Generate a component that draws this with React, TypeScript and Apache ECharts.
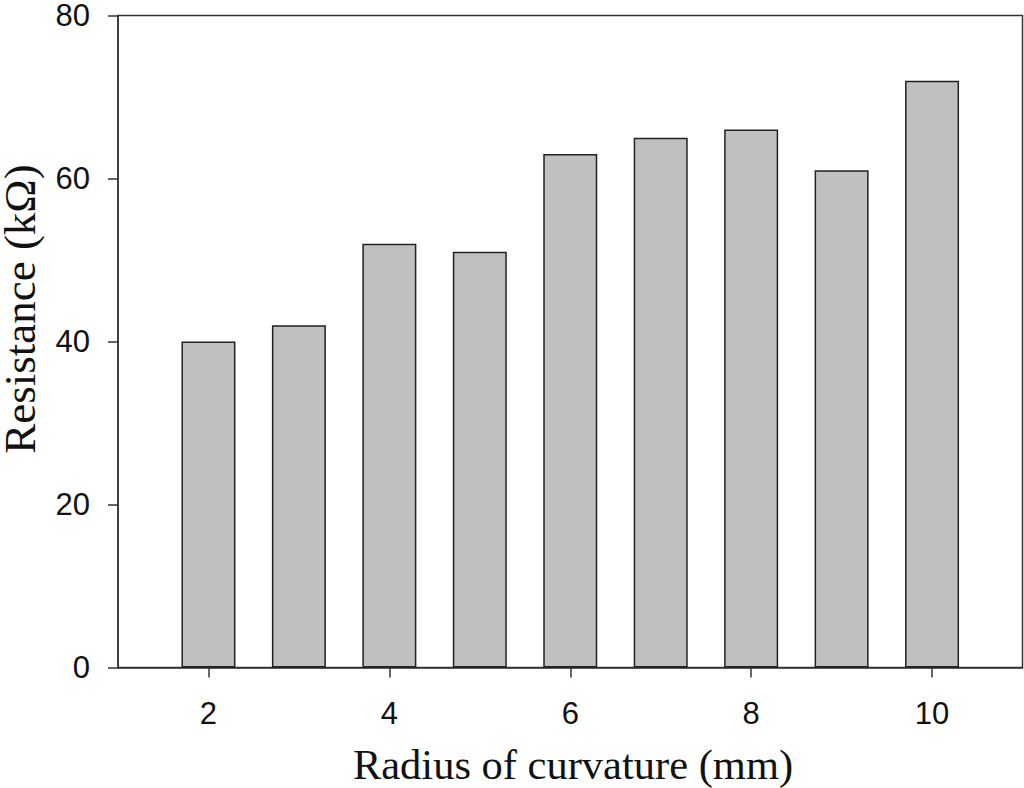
import React, { useEffect, useRef } from "react";
import * as echarts from "echarts";

const radii = [2, 3, 4, 5, 6, 7, 8, 9, 10];
const resistance = [40, 42, 52, 51, 63, 65, 66, 61, 72];
const xTicks = [2, 4, 6, 8, 10];
const yTicks = [0, 20, 40, 60, 80];
const xTitle = "Radius of curvature (mm)";
const yTitle = "Resistance (kΩ)";

export default function App() {
  const ref = useRef<HTMLDivElement>(null);
  useEffect(() => {
    if (!ref.current) return;
    const chart = echarts.init(ref.current, null, { renderer: "svg" });
    const axisColor = "#333";
    chart.setOption({
      animation: false,
      grid: {
        left: 118,
        top: 14.5,
        right: 1.5,
        bottom: 120.5,
        show: true,
        borderColor: axisColor,
        borderWidth: 1.5,
        containLabel: false,
      },
      xAxis: {
        type: "value",
        min: 1,
        max: 11,
        splitLine: { show: false },
        axisLine: { show: true, lineStyle: { color: axisColor, width: 1.5 } },
        axisTick: {
          show: true,
          customValues: xTicks,
          length: 10,
          lineStyle: { color: axisColor, width: 1.5 },
        },
        axisLabel: {
          customValues: xTicks,
          margin: 30,
          fontFamily: "Liberation Sans, Arial, sans-serif",
          fontSize: 31,
          color: "#111",
        },
      },
      yAxis: {
        type: "value",
        min: 0,
        max: 80,
        interval: 20,
        splitLine: { show: false },
        axisLine: { show: true, lineStyle: { color: axisColor, width: 1.5 } },
        axisTick: {
          show: true,
          length: 10,
          lineStyle: { color: axisColor, width: 1.5 },
        },
        axisLabel: {
          margin: 28,
          fontFamily: "Liberation Sans, Arial, sans-serif",
          fontSize: 31,
          lineHeight: 26,
          color: "#111",
          customValues: yTicks,
        },
      },
      series: [
        {
          type: "bar",
          data: radii.map((r, i) => [r, resistance[i]]),
          barWidth: 54,
          itemStyle: { color: "#c0c0c0", borderColor: "#222", borderWidth: 1.5 },
        },
      ],
      graphic: [
        {
          type: "text",
          x: 573,
          y: 764,
          style: {
            text: xTitle,
            font: "42.5px 'Liberation Serif', 'Times New Roman', serif",
            fill: "#111",
            textAlign: "center",
            textVerticalAlign: "middle",
          },
        },
        {
          type: "text",
          x: 20,
          y: 309,
          rotation: Math.PI / 2,
          style: {
            text: yTitle,
            font: "45px 'Liberation Serif', 'Times New Roman', serif",
            lineHeight: 36,
            fill: "#111",
            textAlign: "center",
            textVerticalAlign: "middle",
          },
        },
      ],
    });
    return () => chart.dispose();
  }, []);
  return <div ref={ref} style={{ width: 1024, height: 788, position: "absolute", left: 0, top: 0 }} />;
}
